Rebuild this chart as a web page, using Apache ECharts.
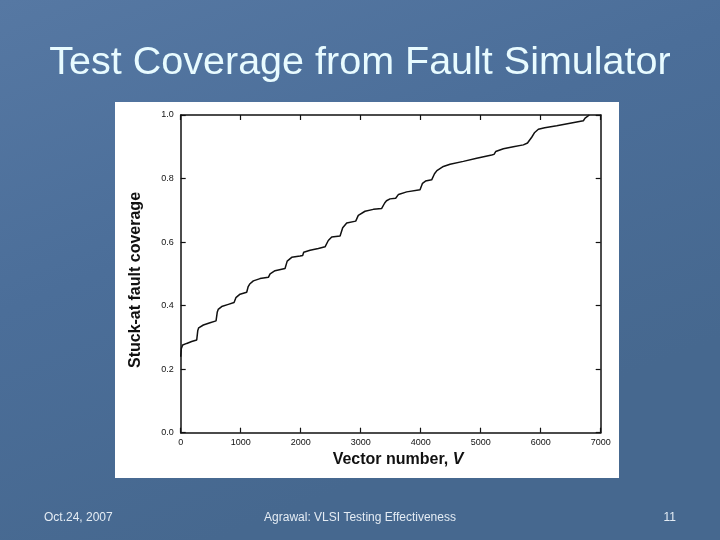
<!DOCTYPE html>
<html>
<head>
<meta charset="utf-8">
<script src="https://cdn.jsdelivr.net/npm/echarts@6/dist/echarts.min.js"></script>
<style>html,body{margin:0;padding:0;}#c{width:720px;height:540px;}</style>
</head>
<body>
<div id="c"></div>
<script>
const vectorNumber = [0, 11, 33, 100, 183, 267, 278, 285, 300, 378, 489, 589, 600, 610, 625, 683, 794, 889, 905, 920, 989, 1100, 1111, 1125, 1150, 1211, 1322, 1461, 1472, 1490, 1572, 1739, 1756, 1775, 1800, 1850, 1989, 2033, 2050, 2156, 2294, 2406, 2433, 2460, 2490, 2517, 2656, 2672, 2700, 2720, 2767, 2917, 2933, 2960, 3072, 3211, 3350, 3378, 3400, 3430, 3489, 3583, 3600, 3630, 3767, 3989, 4006, 4030, 4080, 4183, 4211, 4230, 4270, 4378, 4489, 4711, 4933, 5183, 5222, 5250, 5378, 5544, 5711, 5739, 5780, 5850, 5900, 5961, 6067, 6267, 6489, 6711, 6740, 6811];
const coverage = [0.239, 0.265, 0.276, 0.281, 0.287, 0.292, 0.297, 0.322, 0.330, 0.339, 0.346, 0.352, 0.356, 0.380, 0.388, 0.397, 0.404, 0.410, 0.412, 0.425, 0.436, 0.442, 0.445, 0.460, 0.468, 0.478, 0.485, 0.489, 0.491, 0.500, 0.510, 0.517, 0.520, 0.540, 0.546, 0.552, 0.556, 0.558, 0.568, 0.574, 0.580, 0.585, 0.588, 0.605, 0.610, 0.616, 0.619, 0.622, 0.645, 0.650, 0.660, 0.666, 0.668, 0.684, 0.697, 0.703, 0.706, 0.708, 0.723, 0.730, 0.736, 0.738, 0.740, 0.750, 0.758, 0.765, 0.768, 0.785, 0.792, 0.796, 0.798, 0.815, 0.825, 0.838, 0.845, 0.854, 0.864, 0.874, 0.876, 0.885, 0.894, 0.900, 0.906, 0.908, 0.912, 0.930, 0.945, 0.955, 0.960, 0.966, 0.974, 0.982, 0.990, 1.000];
const xTicks = [0, 1000, 2000, 3000, 4000, 5000, 6000, 7000];
const yTicks = [0.0, 0.2, 0.4, 0.6, 0.8, 1.0];
const titleText = 'Test Coverage from Fault Simulator';
const yName = 'Stuck-at fault coverage';
const footerLeft = 'Oct.24, 2007';
const footerCenter = 'Agrawal: VLSI Testing Effectiveness';
const footerRight = '11';

const chart = echarts.init(document.getElementById('c'), null, {renderer: 'canvas'});
const pts = vectorNumber.map((v, i) => [v, coverage[i]]);
const axisLineStyle = {color: '#111', width: 1.5};
const tickStyle = {show: true, inside: true, length: 5, lineStyle: {color: '#111', width: 1.2}};

chart.setOption({
  backgroundColor: {
    type: 'linear', x: 0, y: 0, x2: 0.3, y2: 1,
    colorStops: [{offset: 0, color: '#5678a3'}, {offset: 0.5, color: '#4b6e99'}, {offset: 1, color: '#46688f'}]
  },
  animation: false,
  grid: {left: 180.7, right: 119.3, top: 115, bottom: 107.3, show: false},
  graphic: [
    {type: 'rect', z: -10, shape: {x: 115, y: 102, width: 504, height: 376}, style: {fill: '#ffffff'}},
    {type: 'text', x: 360, y: 63, style: {text: titleText, font: '39.5px "Liberation Sans", Arial, sans-serif', fill: '#e8fbff', align: 'center', verticalAlign: 'middle', shadowColor: 'rgba(20,30,50,0.7)', shadowOffsetX: 2, shadowOffsetY: 2, shadowBlur: 1}},
    {type: 'text', x: 136, y: 280, rotation: Math.PI / 2, style: {text: yName, font: 'bold 16px "Liberation Sans", Arial, sans-serif', fill: '#111', align: 'center', verticalAlign: 'middle'}},
    {type: 'text', x: 398, y: 460, style: {rich: {a: {font: 'bold 16px "Liberation Sans", Arial, sans-serif', fill: '#111'}, b: {font: 'italic bold 16px "Liberation Sans", Arial, sans-serif', fill: '#111'}}, text: '{a|Vector number, }{b|V}', align: 'center', verticalAlign: 'middle'}},
    {type: 'text', x: 44, y: 518, style: {text: footerLeft, font: '12px "Liberation Sans", Arial, sans-serif', fill: '#e4ecf4', align: 'left', verticalAlign: 'middle'}},
    {type: 'text', x: 360, y: 518, style: {text: footerCenter, font: '12px "Liberation Sans", Arial, sans-serif', fill: '#e4ecf4', align: 'center', verticalAlign: 'middle'}},
    {type: 'text', x: 676, y: 518, style: {text: footerRight, font: '12px "Liberation Sans", Arial, sans-serif', fill: '#e4ecf4', align: 'right', verticalAlign: 'middle'}}
  ],
  xAxis: [
    {type: 'value', position: 'bottom', min: xTicks[0], max: xTicks[xTicks.length - 1], interval: 1000,
     axisLine: {show: true, onZero: false, lineStyle: axisLineStyle}, axisTick: tickStyle,
     axisLabel: {show: true, margin: 5, fontSize: 9, fontFamily: 'Liberation Sans, Arial, sans-serif', color: '#111', showMinLabel: true, showMaxLabel: true, formatter: v => String(v)},
     splitLine: {show: false}},
    {type: 'value', position: 'top', min: xTicks[0], max: xTicks[xTicks.length - 1], interval: 1000,
     axisLine: {show: true, onZero: false, lineStyle: axisLineStyle}, axisTick: tickStyle,
     axisLabel: {show: false}, splitLine: {show: false}}
  ],
  yAxis: [
    {type: 'value', position: 'left', min: yTicks[0], max: yTicks[yTicks.length - 1], interval: 0.2,
     axisLine: {show: true, onZero: false, lineStyle: axisLineStyle}, axisTick: tickStyle,
     axisLabel: {show: true, margin: 7, fontSize: 9, fontFamily: 'Liberation Sans, Arial, sans-serif', color: '#111', formatter: v => v.toFixed(1)},
     splitLine: {show: false}},
    {type: 'value', position: 'right', min: yTicks[0], max: yTicks[yTicks.length - 1], interval: 0.2,
     axisLine: {show: true, onZero: false, lineStyle: axisLineStyle}, axisTick: tickStyle,
     axisLabel: {show: false}, splitLine: {show: false}}
  ],
  series: [{
    type: 'line', xAxisIndex: 0, yAxisIndex: 0, data: pts, showSymbol: false, symbol: 'none',
    lineStyle: {color: '#111', width: 1.5}, smooth: false
  }]
});
</script>
</body>
</html>
